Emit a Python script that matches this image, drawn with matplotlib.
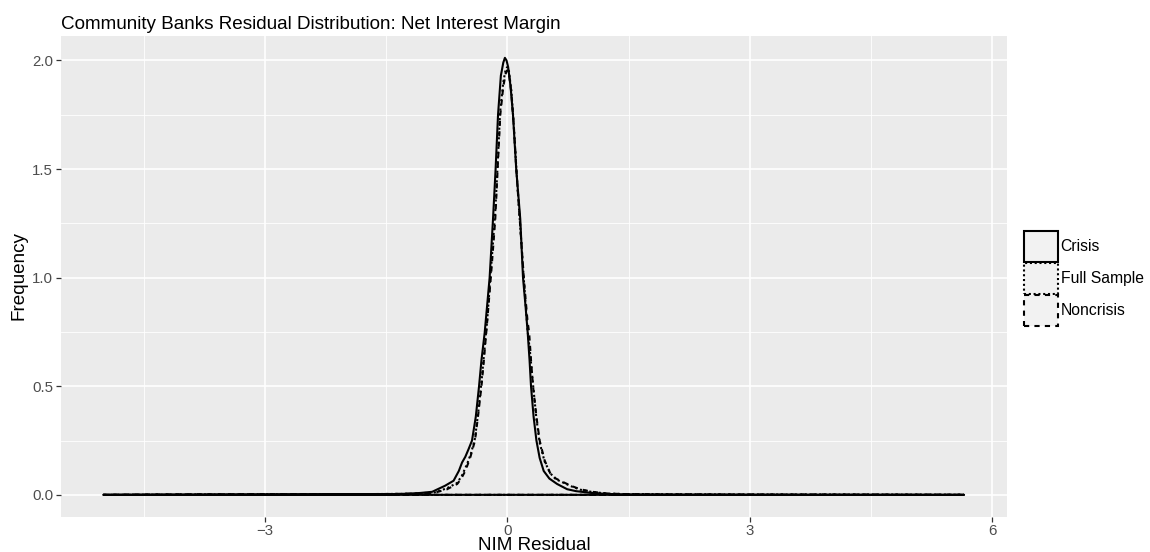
import matplotlib
matplotlib.use("Agg")
import matplotlib.pyplot as plt
from matplotlib.patches import Patch
from matplotlib.ticker import MultipleLocator

plt.rcParams['font.family'] = ['Liberation Sans', 'DejaVu Sans']

title = "Community Banks Residual Distribution: Net Interest Margin"
x_label = "NIM Residual"
y_label = "Frequency"
series_names = ["Crisis", "Full Sample", "Noncrisis"]

crisis_x = [-5.0, -4.0, -3.0, -2.0, -1.6, -1.33, -1.1, -0.93, -0.77, -0.665, -0.6, -0.56,
            -0.52, -0.48, -0.437, -0.39, -0.35, -0.32, -0.28, -0.219, -0.177, -0.145, -0.115,
            -0.08, -0.05, -0.03, -0.01, 0.01, 0.04, 0.07, 0.11, 0.16, 0.194, 0.225, 0.252,
            0.275, 0.293, 0.325, 0.36, 0.4, 0.45, 0.52, 0.616, 0.74, 0.85, 0.99, 1.2, 1.4,
            2.0, 3.0, 4.0, 5.0, 5.65]
crisis_y = [0.0, 0.001, 0.002, 0.003, 0.003, 0.004, 0.008, 0.014, 0.042, 0.065, 0.11, 0.149,
            0.175, 0.21, 0.25, 0.36, 0.5, 0.62, 0.747, 1.0, 1.27, 1.5, 1.75,
            1.93, 1.99, 2.012, 2.0, 1.97, 1.88, 1.75, 1.5, 1.27, 1.0, 0.87, 0.747,
            0.62, 0.5, 0.36, 0.25, 0.17, 0.11, 0.075, 0.05, 0.026, 0.017, 0.011, 0.005, 0.002,
            0.001, 0.0005, 0.0003, 0.0002, 0.0]

full_x = [-5.0, -4.0, -3.0, -2.0, -1.5, -1.2, -0.9, -0.75, -0.62, -0.56, -0.5, -0.45, -0.4,
          -0.36, -0.32, -0.29, -0.25, -0.2, -0.15, -0.12, -0.09, -0.05, -0.02, 0.0, 0.02,
          0.05, 0.08, 0.12, 0.17, 0.21, 0.25, 0.28, 0.3, 0.32, 0.36, 0.4, 0.46, 0.53, 0.6,
          0.7, 0.8, 0.9, 1.05, 1.24, 1.5, 2.0, 3.0, 4.0, 5.0, 5.65]
full_y = [0.0, 0.002, 0.003, 0.003, 0.004, 0.005, 0.011, 0.03, 0.055, 0.09, 0.14, 0.19, 0.26,
          0.38, 0.52, 0.64, 0.8, 1.05, 1.3, 1.52, 1.76, 1.9, 1.96, 1.97, 1.95,
          1.86, 1.7, 1.45, 1.18, 0.96, 0.76, 0.66, 0.58, 0.5, 0.35, 0.24, 0.155, 0.1, 0.072,
          0.055, 0.038, 0.024, 0.013, 0.006, 0.003, 0.002, 0.001, 0.001, 0.0005, 0.0]

non_x = [-5.0, -4.0, -3.0, -2.0, -1.5, -1.2, -0.9, -0.75, -0.62, -0.57, -0.52, -0.46, -0.4,
         -0.36, -0.32, -0.29, -0.26, -0.2, -0.149, -0.12, -0.087, -0.05, -0.02, 0.0, 0.02,
         0.05, 0.08, 0.12, 0.17, 0.21, 0.25, 0.27, 0.293, 0.318, 0.36, 0.4, 0.46, 0.53, 0.6,
         0.7, 0.8, 0.9, 1.05, 1.24, 1.5, 2.0, 3.0, 4.0, 5.0, 5.65]
non_y = [0.0, 0.002, 0.003, 0.003, 0.004, 0.005, 0.01, 0.025, 0.05, 0.075, 0.11, 0.17, 0.25,
         0.37, 0.5, 0.62, 0.75, 1.02, 1.27, 1.5, 1.75, 1.88, 1.94, 1.955, 1.94,
         1.85, 1.7, 1.45, 1.18, 0.97, 0.8, 0.747, 0.62, 0.5, 0.36, 0.25, 0.16, 0.1, 0.075,
         0.057, 0.04, 0.026, 0.014, 0.006, 0.003, 0.002, 0.001, 0.001, 0.0005, 0.0]

x_ticks = [-3, 0, 3, 6]
y_ticks = [0.0, 0.5, 1.0, 1.5, 2.0]

styles = {
    "Crisis": dict(linestyle="solid"),
    "Full Sample": dict(linestyle=(0, (1.0, 1.3))),
    "Noncrisis": dict(linestyle=(0, (2.5, 2.5))),
}

W, H = 1150, 552
fig = plt.figure(figsize=(W / 100, H / 100), dpi=100)
ax = fig.add_axes([61 / W, 1 - 516.7 / H, (1007 - 61) / W, (516.7 - 36) / H])
ax.set_facecolor("#EBEBEB")
for s in ax.spines.values():
    s.set_visible(False)

lw = 1.5
data = {"Crisis": (crisis_x, crisis_y), "Full Sample": (full_x, full_y), "Noncrisis": (non_x, non_y)}
for name in series_names:
    xs, ys = data[name]
    ax.fill(xs, ys, facecolor="none", edgecolor="black", linewidth=lw, zorder=3,
            joinstyle="round", **styles[name])

xmin, xmax = -4.99, 5.65
xpad = (xmax - xmin) * 0.05
ax.set_xlim(xmin - xpad, xmax + xpad)
ymax = 2.012
ax.set_ylim(-ymax * 0.05, ymax * 1.05)

ax.set_xticks(x_ticks)
ax.set_xticklabels(["\u22123", "0", "3", "6"])
ax.set_yticks(y_ticks)
ax.set_yticklabels([f"{v:.1f}" for v in y_ticks])
ax.xaxis.set_minor_locator(MultipleLocator(1.5))
ax.yaxis.set_minor_locator(MultipleLocator(0.25))
ax.grid(which="major", color="white", linewidth=1.2, zorder=0)
ax.grid(which="minor", color="white", linewidth=0.6, zorder=0)
ax.set_axisbelow(True)
ax.tick_params(which="major", length=3.4, width=0.9, color="#333333", labelcolor="#4D4D4D",
               labelsize=10.8, pad=2.2)
ax.tick_params(which="minor", length=0)

# axis titles
fig.text((61 + 1007) / 2 / W, 1 - 549.5 / H, x_label, fontsize=13.6, ha="center",
         va="baseline", color="black")
fig.text(19 / W, 1 - 276 / H, y_label, fontsize=13.6, ha="center", va="center",
         rotation=90, color="black")

fig.text(61 / W, 1 - 29.3 / H, title, fontsize=13.6, ha="left", va="baseline")

handles = [Patch(facecolor="#F2F2F2", edgecolor="black", linewidth=lw, label=n, **styles[n])
           for n in series_names]
leg = fig.legend(handles=handles, loc="center left", bbox_to_anchor=(1013 / W, 1 - 278.5 / H),
                 frameon=False, fontsize=11.3, handlelength=2.15, handleheight=2.66,
                 handletextpad=0.18, labelspacing=0.05, borderpad=0.2)

fig.savefig("out.png", dpi=100)
